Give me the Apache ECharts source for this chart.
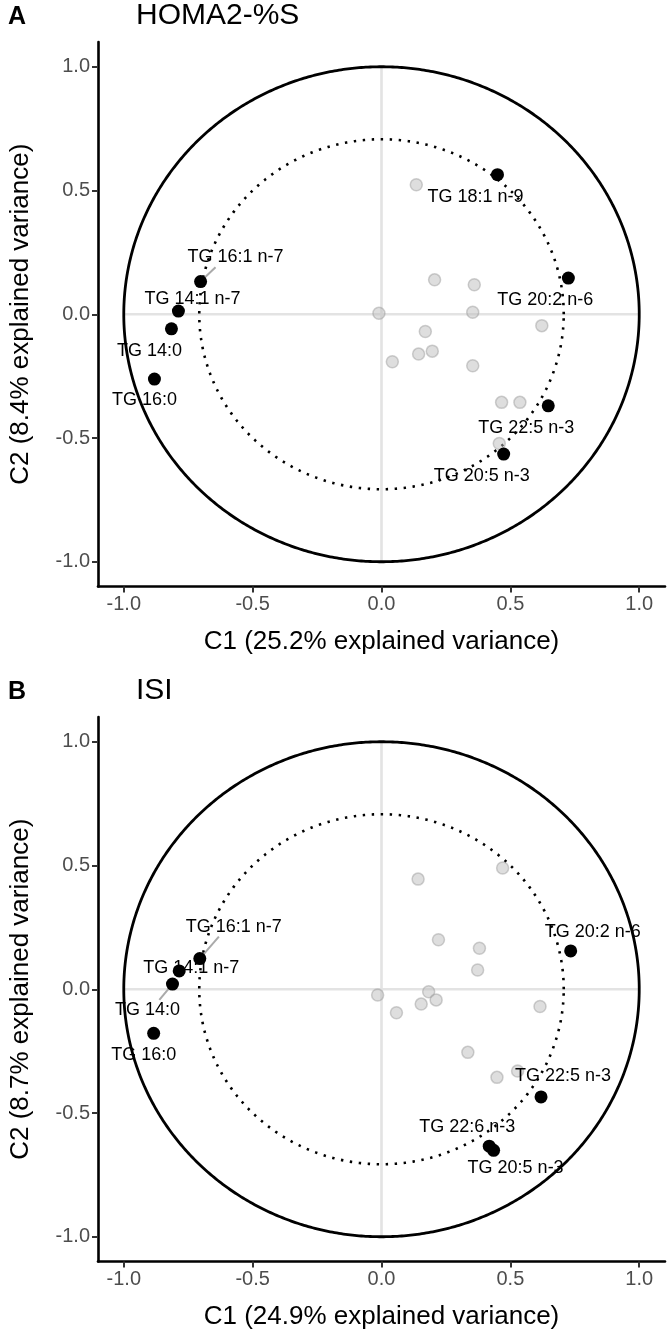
<!DOCTYPE html>
<html>
<head>
<meta charset="utf-8">
<script src="https://cdn.jsdelivr.net/npm/echarts@6/dist/echarts.min.js"></script>
<style>
html,body{margin:0;padding:0;background:#fff;}
#chart{width:667px;height:1331px;}
</style>
</head>
<body>
<div id="chart"></div>
<script>
// ---------- data ----------
const tickValues = [-1, -0.5, 0, 0.5, 1];

const titleA = 'HOMA2-%S';
const xNameA = 'C1 (25.2% explained variance)';
const yNameA = 'C2 (8.4% explained variance)';
const labelsA = ['TG 16:1 n-7', 'TG 14:1 n-7', 'TG 14:0', 'TG 16:0', 'TG 18:1 n-9', 'TG 20:2 n-6', 'TG 22:5 n-3', 'TG 20:5 n-3'];
const c1A = [-0.702, -0.788, -0.815, -0.881, 0.450, 0.725, 0.647, 0.474];
const c2A = [0.132, 0.013, -0.059, -0.262, 0.564, 0.146, -0.370, -0.565];
const greyC1A = [0.135, 0.206, 0.360, -0.010, 0.354, 0.622, 0.170, 0.042, 0.144, 0.197, 0.354, 0.466, 0.537, 0.457];
const greyC2A = [0.523, 0.139, 0.119, 0.004, 0.008, -0.046, -0.070, -0.192, -0.161, -0.149, -0.208, -0.356, -0.356, -0.522];
const segA = [[[-0.702, 0.132], [-0.644, 0.190]]];

const titleB = 'ISI';
const xNameB = 'C1 (24.9% explained variance)';
const yNameB = 'C2 (8.7% explained variance)';
const labelsB = ['TG 16:1 n-7', 'TG 14:1 n-7', 'TG 14:0', 'TG 16:0', 'TG 20:2 n-6', 'TG 22:5 n-3', 'TG 22:6 n-3', 'TG 20:5 n-3'];
const c1B = [-0.705, -0.785, -0.811, -0.884, 0.734, 0.619, 0.418, 0.435];
const c2B = [0.124, 0.074, 0.021, -0.178, 0.155, -0.435, -0.634, -0.651];
const greyC1B = [0.470, 0.142, 0.221, 0.380, 0.373, -0.015, 0.183, 0.212, 0.154, 0.058, 0.615, 0.335, 0.528, 0.448];
const greyC2B = [0.490, 0.445, 0.200, 0.166, 0.078, -0.023, -0.010, -0.043, -0.060, -0.095, -0.070, -0.255, -0.330, -0.356];
const segB = [[[-0.705, 0.124], [-0.631, 0.213]], [[-0.811, 0.021], [-0.862, -0.043]]];

// ---------- styles / label placement (pixels) ----------
const labelOffsetA = [[35, -25], [14, -12], [-22, 22], [-10, 21], [-22, 22], [-23, 22], [-22, 22], [-22, 22]];
const labelOffsetB = [[34, -32], [12, -3], [-25, 26], [-10, 22], [22, -19], [22, -21], [-22, -19], [22, 18]];

const FONT = '"Liberation Sans", Arial, Helvetica, sans-serif';

function circleSeries(gi, r, dotted) {
  return {
    type: 'custom', xAxisIndex: gi, yAxisIndex: gi, silent: true, z: 3, clip: false,
    data: [[0, 0, r]],
    renderItem: function (params, api) {
      const rr = api.value(2);
      const pts = [];
      for (let i = 0; i <= 720; i++) {
        const a = i * Math.PI / 360;
        pts.push(api.coord([rr * Math.cos(a), rr * Math.sin(a)]));
      }
      return {
        type: 'polyline', shape: { points: pts },
        style: dotted
          ? { stroke: '#000', lineWidth: 2.6, fill: null, lineDash: [2.4, 6.6], lineCap: 'butt' }
          : { stroke: '#000', lineWidth: 2.8, fill: null }
      };
    }
  };
}

function panelSeries(gi, c1, c2, labels, offsets, gx, gy, segs) {
  const out = [];
  out.push({ type: 'line', xAxisIndex: gi, yAxisIndex: gi, data: [[-1, 0], [1, 0]], symbol: 'none', silent: true, z: 1,
    lineStyle: { color: '#e3e3e3', width: 2.6 } });
  out.push({ type: 'line', xAxisIndex: gi, yAxisIndex: gi, data: [[0, -1], [0, 1]], symbol: 'none', silent: true, z: 1,
    lineStyle: { color: '#e3e3e3', width: 2.6 } });
  out.push(circleSeries(gi, 1, false));
  out.push(circleSeries(gi, Math.SQRT1_2, true));
  out.push({ type: 'scatter', xAxisIndex: gi, yAxisIndex: gi, symbolSize: 12, z: 4, silent: true,
    data: gx.map((v, i) => [v, gy[i]]),
    itemStyle: { color: 'rgba(190,190,190,0.5)', borderColor: 'rgba(150,150,150,0.45)', borderWidth: 1.5, opacity: 1 } });
  segs.forEach(s => out.push({ type: 'line', xAxisIndex: gi, yAxisIndex: gi, data: s, symbol: 'none', silent: true, z: 5,
    lineStyle: { color: '#aaaaaa', width: 2 } }));
  out.push({ type: 'scatter', xAxisIndex: gi, yAxisIndex: gi, symbolSize: 13, z: 6, silent: true,
    data: c1.map((v, i) => ({ value: [v, c2[i]], name: labels[i], label: { offset: offsets[i] } })),
    itemStyle: { color: '#000', opacity: 1 },
    label: { show: true, position: 'inside', formatter: p => p.name, color: '#000', opacity: 1, fontSize: 18, fontFamily: FONT } });
  return out;
}

function xAxisFor(gi, name) {
  return {
    gridIndex: gi, type: 'value', min: -1.1, max: 1.1,
    axisLine: { show: true, onZero: false, lineStyle: { color: '#000', width: 2.6 } },
    axisTick: { show: true, customValues: tickValues, length: 6, lineStyle: { color: '#333', width: 2 } },
    axisLabel: { customValues: tickValues, formatter: v => v.toFixed(1), fontSize: 20, color: '#4d4d4d', margin: 8, fontFamily: FONT },
    splitLine: { show: false },
    name: name, nameLocation: 'middle', nameGap: 42,
    nameTextStyle: { fontSize: 26, color: '#000', fontFamily: FONT }
  };
}
function yAxisFor(gi, name) {
  return {
    gridIndex: gi, type: 'value', min: -1.1, max: 1.1,
    axisLine: { show: true, onZero: false, lineStyle: { color: '#000', width: 2.6 } },
    axisTick: { show: true, customValues: tickValues, length: 6, lineStyle: { color: '#333', width: 2 } },
    axisLabel: { customValues: tickValues, formatter: v => v.toFixed(1), fontSize: 20, color: '#4d4d4d', margin: 8, fontFamily: FONT },
    splitLine: { show: false },
    name: name, nameLocation: 'middle', nameGap: 64, nameRotate: 90,
    nameTextStyle: { fontSize: 26, color: '#000', fontFamily: FONT }
  };
}

const chart = echarts.init(document.getElementById('chart'), null, { renderer: 'canvas' });
chart.setOption({
  animation: false,
  backgroundColor: '#fff',
  grid: [
    { left: 95, top: 42, width: 570, height: 544.5 },
    { left: 95, top: 717, width: 570, height: 544.5 }
  ],
  xAxis: [xAxisFor(0, xNameA), xAxisFor(1, xNameB)],
  yAxis: [yAxisFor(0, yNameA), yAxisFor(1, yNameB)],
  graphic: [
    { type: 'text', left: 8, top: 5, style: { text: 'A', fontSize: 25, fontWeight: 'bold', fill: '#000', fontFamily: FONT } },
    { type: 'text', left: 136, top: 1, style: { text: titleA, fontSize: 30, fill: '#000', fontFamily: FONT } },
    { type: 'text', left: 8, top: 680, style: { text: 'B', fontSize: 25, fontWeight: 'bold', fill: '#000', fontFamily: FONT } },
    { type: 'text', left: 136, top: 676, style: { text: titleB, fontSize: 30, fill: '#000', fontFamily: FONT } }
  ],
  series: [].concat(
    panelSeries(0, c1A, c2A, labelsA, labelOffsetA, greyC1A, greyC2A, segA),
    panelSeries(1, c1B, c2B, labelsB, labelOffsetB, greyC1B, greyC2B, segB)
  )
});
</script>
</body>
</html>
